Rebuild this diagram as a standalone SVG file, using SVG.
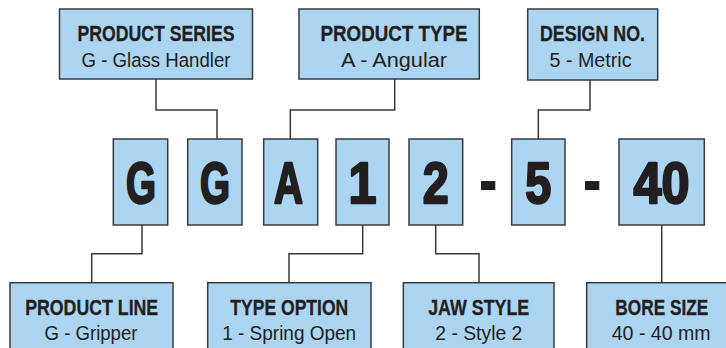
<svg xmlns="http://www.w3.org/2000/svg" width="726" height="348" viewBox="0 0 726 348">
<style>
.box{fill:#abd5f0;stroke:#3a3a3c;stroke-width:1.5}
.t{font-family:"Liberation Sans",Arial,sans-serif;font-weight:bold;font-size:22px;fill:#231f20;stroke:#231f20;stroke-width:0.3;text-anchor:middle}
.tb{font-family:"Liberation Sans",Arial,sans-serif;font-weight:bold;font-size:21.5px;fill:#231f20;stroke:#231f20;stroke-width:0.3;text-anchor:middle}
.s{font-family:"Liberation Sans",Arial,sans-serif;font-size:19.5px;fill:#231f20;text-anchor:middle}
.big{font-family:"Liberation Sans",Arial,sans-serif;font-weight:bold;font-size:58px;fill:#231f20;stroke:#231f20;stroke-width:2.4;stroke-linejoin:round;text-anchor:middle}
.c{fill:none;stroke:#3a3a3c;stroke-width:1.5}
</style>
<rect width="726" height="348" fill="#ffffff"/>
<g id="connectors">
<path class="c" d="M156 79 V110 H217 V139"/>
<path class="c" d="M394.7 79 V110 H290.3 V139"/>
<path class="c" d="M590 80 V110 H538.3 V139"/>
<path class="c" d="M142 225 V253.7 H91.7 V282.7"/>
<path class="c" d="M362.7 225 V253.7 H289 V282.7"/>
<path class="c" d="M435.7 225 V253.7 H479 V282.7"/>
<path class="c" d="M661.7 225 V282.7"/>
</g>
<g id="product-series">
<rect class="box" x="59.5" y="9" width="193" height="70"/>
<text class="t" x="156" y="41" textLength="157" lengthAdjust="spacingAndGlyphs">PRODUCT SERIES</text>
<text class="s" x="156" y="67" textLength="149" lengthAdjust="spacingAndGlyphs">G - Glass Handler</text>
</g>
<g id="product-type">
<rect class="box" x="299" y="9" width="180.3" height="70"/>
<text class="t" x="394" y="41" textLength="147" lengthAdjust="spacingAndGlyphs">PRODUCT TYPE</text>
<text class="s" x="394" y="67" textLength="106" lengthAdjust="spacingAndGlyphs">A - Angular</text>
</g>
<g id="design-no">
<rect class="box" x="527.7" y="9" width="130" height="71"/>
<text class="t" x="592.5" y="41" textLength="105" lengthAdjust="spacingAndGlyphs">DESIGN NO.</text>
<text class="s" x="590.5" y="67" textLength="82" lengthAdjust="spacingAndGlyphs">5 - Metric</text>
</g>
<g id="code-g1">
<rect class="box" x="113.3" y="139" width="54.4" height="86"/>
<text class="big" x="141" y="203" textLength="30" lengthAdjust="spacingAndGlyphs">G</text>
</g>
<g id="code-g2">
<rect class="box" x="187.7" y="139" width="54.3" height="86"/>
<text class="big" x="215" y="203" textLength="30" lengthAdjust="spacingAndGlyphs">G</text>
</g>
<g id="code-a">
<rect class="box" x="263.7" y="139" width="54" height="86"/>
<text class="big" x="288.5" y="203" textLength="29" lengthAdjust="spacingAndGlyphs">A</text>
</g>
<g id="code-1">
<rect class="box" x="336" y="139" width="53" height="86"/>
<text class="big" x="362.5" y="203" textLength="28" lengthAdjust="spacingAndGlyphs">1</text>
</g>
<g id="code-2">
<rect class="box" x="409" y="139" width="53.7" height="86"/>
<text class="big" x="435.8" y="203" textLength="26" lengthAdjust="spacingAndGlyphs">2</text>
</g>
<g id="dash-1">
<rect x="481" y="181" width="14.3" height="9" fill="#231f20"/>
</g>
<g id="code-5">
<rect class="box" x="511.7" y="139" width="53.3" height="86"/>
<text class="big" x="538.3" y="203" textLength="26" lengthAdjust="spacingAndGlyphs">5</text>
</g>
<g id="dash-2">
<rect x="585" y="181" width="14.3" height="9" fill="#231f20"/>
</g>
<g id="code-40">
<rect class="box" x="619" y="139" width="85.3" height="86"/>
<text class="big" x="661.5" y="203" textLength="56" lengthAdjust="spacingAndGlyphs">40</text>
</g>
<g id="product-line">
<rect class="box" x="10" y="282.7" width="163" height="80"/>
<text class="tb" x="91.7" y="315" textLength="133" lengthAdjust="spacingAndGlyphs">PRODUCT LINE</text>
<text class="s" x="91" y="340" textLength="93" lengthAdjust="spacingAndGlyphs">G - Gripper</text>
</g>
<g id="type-option">
<rect class="box" x="207.7" y="282.7" width="163.3" height="80"/>
<text class="tb" x="289.3" y="315" textLength="118" lengthAdjust="spacingAndGlyphs">TYPE OPTION</text>
<text class="s" x="289.2" y="340" textLength="134" lengthAdjust="spacingAndGlyphs">1 - Spring Open</text>
</g>
<g id="jaw-style">
<rect class="box" x="403.3" y="282.7" width="150.7" height="80"/>
<text class="tb" x="478.7" y="315" textLength="101" lengthAdjust="spacingAndGlyphs">JAW STYLE</text>
<text class="s" x="478.8" y="340" textLength="87" lengthAdjust="spacingAndGlyphs">2 - Style 2</text>
</g>
<g id="bore-size">
<rect class="box" x="586.7" y="282.7" width="150" height="80"/>
<text class="tb" x="661.8" y="315" textLength="93" lengthAdjust="spacingAndGlyphs">BORE SIZE</text>
<text class="s" x="661.2" y="340" textLength="99" lengthAdjust="spacingAndGlyphs">40 - 40 mm</text>
</g>
</svg>
